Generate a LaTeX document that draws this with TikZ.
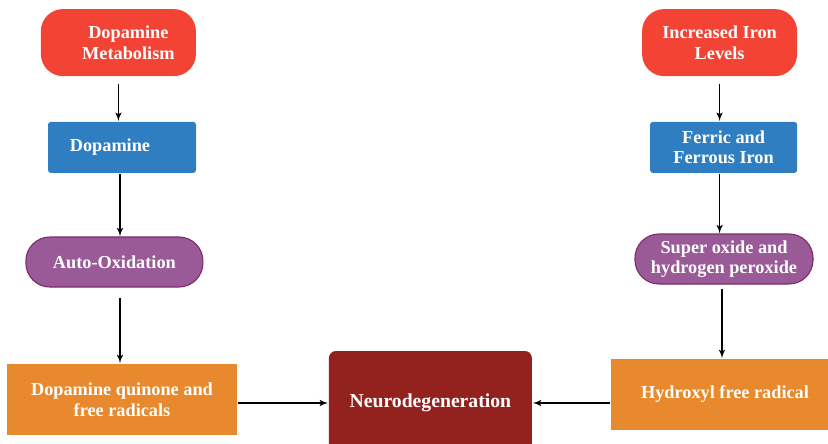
\documentclass[tikz,border=0pt]{standalone}
\usepackage{fontspec}
\setmainfont{Liberation Serif}
\usetikzlibrary{arrows, shapes}

\definecolor{causered}{HTML}{F24335}
\definecolor{agentblue}{HTML}{2F7EC2}
\definecolor{stepfill}{HTML}{9A5A97}
\definecolor{stepedge}{HTML}{7E2B6C}
\definecolor{resultorange}{HTML}{E8892D}
\definecolor{enddark}{HTML}{93221F}

\begin{document}
\begin{tikzpicture}[->, >=latex', line width=1.1pt,
	every node/.style={text=white, font=\fontsize{13}{14.6}\selectfont\bfseries, align=center, inner sep=0pt},
	cause/.style={rectangle, rounded corners=0.55cm, fill=causered, minimum width=3.875cm, minimum height=1.675cm},
	agent/.style={rectangle, rounded corners=2pt, fill=agentblue, minimum width=3.7cm, minimum height=1.275cm},
	reaction/.style={rectangle, rounded corners=0.6cm, fill=stepfill, draw=stepedge, line width=0.8pt, minimum width=4.425cm, minimum height=1.25cm},
	result/.style={rectangle, fill=resultorange, minimum width=5.75cm, minimum height=1.775cm},
	outcome/.style={rectangle, rounded corners=5pt, fill=enddark, minimum width=5.075cm, minimum height=2.6cm, font=\fontsize{14}{16}\selectfont\bfseries}]
		\useasboundingbox (0, 0) rectangle (20.7, 11.075);

		\node[cause] (dm) at (2.96, 10.01) {\hspace*{0.5cm}Dopamine\\\hspace*{0.5cm}Metabolism};
		\node[agent] (d) at (3.05, 7.39) {Dopamine\hspace*{0.6cm}};
		\node[reaction] (ao) at (2.86, 4.525) {Auto-Oxidation};
		\node[result] (dq) at (3.05, 1.0875) {Dopamine quinone and\\free radicals};

		\node[outcome] (nd) at (10.76, 1.0) {Neurodegeneration};

		\node[cause] (il) at (17.99, 10.01) {Increased Iron\\Levels};
		\node[agent, minimum width=3.675cm] (fi) at (18.09, 7.39) {Ferric and\\Ferrous Iron};
		\node[reaction, minimum width=4.45cm] (so) at (18.1, 4.6) {Super oxide and\\hydrogen peroxide};
		\node[result, minimum width=5.7cm] (hr) at (18.125, 1.2125) {Hydroxyl free radical};

		\path (dm.south) edge[shorten <=0.17cm] (dm.south |- d.north)
			([xshift=-0.05cm]d.south) edge ([xshift=-0.05cm]d.south |- ao.north)
			([xshift=-0.05cm]d.south |- ao.south) edge[shorten <=0.25cm] ([xshift=-0.05cm]d.south |- dq.north)
			(dq.east |- nd.west) edge (nd.west)
			(il.south) edge[shorten <=0.17cm] (il.south |- fi.north)
			([xshift=-0.1cm]fi.south) edge ([xshift=-0.1cm]fi.south |- so.north)
			([xshift=-0.05cm]so.south) edge[shorten <=0.12cm] ([xshift=-0.05cm]so.south |- hr.north)
			(hr.west |- nd.east) edge (nd.east);
	\end{tikzpicture}
\end{document}
